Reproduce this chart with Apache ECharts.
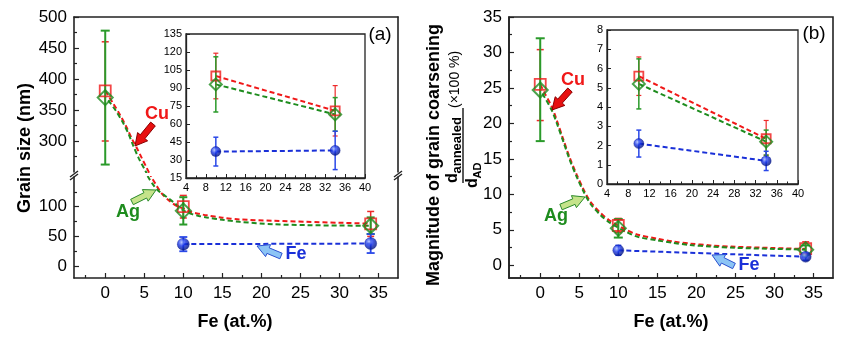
<!DOCTYPE html>
<html><head><meta charset="utf-8">
<script src="https://cdn.jsdelivr.net/npm/echarts@6/dist/echarts.min.js"></script>
<style>html,body{margin:0;padding:0;background:#fff}#c{width:841px;height:339px}</style>
</head><body><div id="c"></div>
<script>
// ================= DATA =================
const feAt = [0, 10, 34];          // Fe (at.%) of the samples
const feAtFe = [10, 34];           // samples with an Fe phase

// Panel (a): grain size (nm)
const cuSizeA = [381, 100, 71];
const cuSizeLoA = [300, 81, 50];
const cuSizeHiA = [460, 119, 92];
const agSizeA = [370, 93, 68];
const agSizeLoA = [262, 70, 54];
const agSizeHiA = [478, 116, 82];
const feSizeA = [37, 38];
const feSizeLoA = [25, 22];
const feSizeHiA = [49, 54];

// Panel (a) guide curves (upper / lower part of broken axis)
const cuCurveUpperA = [[0,381],[1,361],[1.9,342],[2.7,323],[3.4,304],[4,290],[4.7,272],[5.3,257],[5.8,244]];
const cuCurveLowerA = [[5.6,158],[6.0,148],[6.6,135],[7.2,123],[8.2,110],[9.2,101],[10,97],[11,91],[12,88],[13,85.5],[15,81.5],[17.2,78.6],[21.5,76.3],[25.8,74.6],[30,73],[34,71.5]];
const agCurveUpperA = [[0,370],[0.4,365],[1.3,350],[2.3,329],[3,311],[3.6,292],[4.3,272],[5.1,253],[5.5,243]];
const agCurveLowerA = [[5.2,158],[5.5,150],[6.2,136],[6.8,127],[7.7,118],[8.7,108],[10,94],[11,88],[12,84.5],[13,82],[15,78],[17.2,74.6],[21.5,70.5],[25.8,69],[30,68.3],[34,68]];

// Panel (b): magnitude of grain coarsening (x100 %)
const cuCoarsB = [25.5, 5.6, 2.35];
const cuCoarsLoB = [20.4, 4.6, 1.5];
const cuCoarsHiB = [30.4, 6.6, 3.3];
const agCoarsB = [24.7, 5.2, 2.2];
const agCoarsLoB = [17.5, 3.9, 1.5];
const agCoarsHiB = [32.0, 6.5, 2.8];
const feCoarsB = [2.1, 1.2];
const feCoarsLoB = [1.4, 0.7];
const feCoarsHiB = [2.8, 1.7];

const cuCurveB = [[0,25.5],[0.6,24.2],[1.5,22.3],[2.1,20.5],[3,17.6],[3.8,15.1],[4.7,12.7],[5.5,10.8],[6.4,9.0],[7.7,7.4],[8.9,6.3],[10,5.6],[11,5.0],[12.5,4.3],[15,3.75],[17,3.35],[19.2,3.05],[21.8,2.8],[25,2.6],[30,2.42],[34,2.3]];
const agCurveB = [[0,24.7],[0.6,23.6],[1.5,21.8],[2.1,20.1],[3,17.3],[3.8,14.8],[4.7,12.4],[5.5,10.5],[6.4,8.7],[7.7,7.1],[8.9,6.0],[10,5.3],[11,4.7],[12.5,4.0],[15,3.5],[17,3.15],[19.2,2.85],[21.8,2.65],[25,2.45],[30,2.3],[34,2.2]];

// Tick values
const xTicksMain = [0,5,10,15,20,25,30,35];
const xMinorMain = [-2.5,2.5,7.5,12.5,17.5,22.5,27.5,32.5];
const yTicksUpperA = [300,350,400,450,500];
const yMinorUpperA = [275,325,375,425,475];
const yTicksLowerA = [0,50,100];
const yMinorLowerA = [25,75,125];
const yTicksB = [0,5,10,15,20,25,30,35];
const yMinorB = [2.5,7.5,12.5,17.5,22.5,27.5,32.5];

// ================= STYLE =================
const FONT = 'Arial, "Liberation Sans", Helvetica, sans-serif';
const RED = '#f01818', GREEN = '#1e8c1e', BLUE = '#1a30d8';
const ERR_RED = '#ee2a2a', ERR_GREEN = '#2a9a2a', ERR_BLUE = '#2a48e8';
const FRAME = '#222';
const sphere = {type:'radial', x:0.38, y:0.35, r:0.65, colorStops:[
  {offset:0,color:'#a8bcff'},{offset:0.45,color:'#1633e6'},{offset:1,color:'#00127a'}]};

const pairs = (xs, ys) => xs.map((x,i)=>[x, ys[i]]);
const triples = (xs, lo, hi) => xs.map((x,i)=>[x, lo[i], hi[i]]);

function frameAxis(dim, grid, pos, min, max){
  return {type:'value', gridIndex:grid, position:pos, min, max,
    axisLine:{show:true, onZero:false, lineStyle:{color:FRAME, width:1.6}},
    axisTick:{show:false}, axisLabel:{show:false}, splitLine:{show:false}};
}
function majorAxis(grid, pos, min, max, ticks, fs, margin){
  return {type:'value', gridIndex:grid, position:pos, min, max,
    axisLine:{show:true, onZero:false, lineStyle:{color:FRAME, width:1.6}},
    axisTick:{show:true, inside:true, length:5, customValues:ticks, lineStyle:{color:FRAME, width:1.2}},
    axisLabel:{show:true, customValues:ticks, color:'#000', fontSize:fs, fontFamily:FONT, margin},
    splitLine:{show:false}};
}
function minorAxis(grid, pos, min, max, ticks){
  return {type:'value', gridIndex:grid, position:pos, min, max,
    axisLine:{show:false, onZero:false},
    axisTick:{show:true, inside:true, length:3, customValues:ticks, lineStyle:{color:FRAME, width:1.2}},
    axisLabel:{show:false}, splitLine:{show:false}};
}
function insetAxis(grid, pos, min, max, interval, minor){
  return {type:'value', gridIndex:grid, position:pos, min, max, interval,
    axisLine:{show:true, onZero:false, lineStyle:{color:FRAME, width:1.3}},
    axisTick:{show:true, inside:true, length:4, lineStyle:{color:FRAME, width:1}},
    minorTick:{show:minor, splitNumber:2, length:2.5, lineStyle:{color:FRAME, width:1}},
    axisLabel:{color:'#000', fontSize:11, fontFamily:FONT, margin:4},
    splitLine:{show:false}};
}

function dashed(data, xi, yi, color, smooth, z, offset){
  return {type:'line', xAxisIndex:xi, yAxisIndex:yi, data, symbol:'none', showSymbol:false,
    smooth, silent:true, z, clip:true, animation:false,
    lineStyle:{color, width:2, type:[5,3], dashOffset:offset||0}};
}
function errBars(data, xi, yi, color, lw, cap, z){
  return {type:'custom', xAxisIndex:xi, yAxisIndex:yi, silent:true, z, data, animation:false,
    renderItem(params, api){
      const x = api.value(0), lo = api.value(1), hi = api.value(2);
      const a = api.coord([x, lo]), b = api.coord([x, hi]);
      const st = {stroke:color, lineWidth:lw};
      return {type:'group', children:[
        {type:'line', shape:{x1:a[0],y1:a[1],x2:b[0],y2:b[1]}, style:st},
        {type:'line', shape:{x1:a[0]-cap,y1:a[1],x2:a[0]+cap,y2:a[1]}, style:st},
        {type:'line', shape:{x1:b[0]-cap,y1:b[1],x2:b[0]+cap,y2:b[1]}, style:st}]};
    }};
}
function marks(data, xi, yi, kind, size, z){
  let symbol, itemStyle, symbolSize = size;
  if (kind === 'cu'){ symbol = 'rect'; itemStyle = {color:'rgba(255,255,255,0)', borderColor:RED, borderWidth:1.8}; }
  else if (kind === 'ag'){ symbol = 'diamond'; symbolSize = [size,size]; itemStyle = {color:'rgba(255,255,255,0)', borderColor:GREEN, borderWidth:2}; }
  else { symbol = 'circle'; itemStyle = {color:sphere, borderColor:'#0a1a90', borderWidth:0.5}; }
  return {type:'scatter', xAxisIndex:xi, yAxisIndex:yi, data, symbol, symbolSize, itemStyle, silent:true, z, animation:false};
}

// ================= AXES =================
// grids: 0 = (a) upper, 1 = (a) lower, 2 = (a) inset, 3 = (b) main, 4 = (b) inset
const grid = [
  {left:74, top:17, width:324, height:155},
  {left:74, top:177, width:324, height:101},
  {left:186, top:34, width:179, height:144, show:true, backgroundColor:'#fff', borderColor:FRAME, borderWidth:1.3},
  {left:509, top:17, width:324, height:261, show:true, borderColor:FRAME, borderWidth:1.6},
  {left:607, top:30, width:191, height:154, show:true, backgroundColor:'#fff', borderColor:FRAME, borderWidth:1.3}
];
const xAxis = [
  frameAxis('x', 0, 'top', -4, 37.5),                          // 0
  majorAxis(1, 'bottom', -4, 37.5, xTicksMain, 17, 7),          // 1
  minorAxis(1, 'bottom', -4, 37.5, xMinorMain),                 // 2
  insetAxis(2, 'bottom', 4, 40, 4, true),                       // 3
  majorAxis(3, 'bottom', -4, 37.5, xTicksMain, 17, 7),          // 4
  minorAxis(3, 'bottom', -4, 37.5, xMinorMain),                 // 5
  insetAxis(4, 'bottom', 4, 40, 4, true)                        // 6
];
const yAxis = [
  majorAxis(0, 'left', 250, 500, yTicksUpperA, 17, 7),          // 0
  minorAxis(0, 'left', 250, 500, yMinorUpperA),                 // 1
  frameAxis('y', 0, 'right', 250, 500),                         // 2
  majorAxis(1, 'left', -20, 150, yTicksLowerA, 17, 7),          // 3
  minorAxis(1, 'left', -20, 150, yMinorLowerA),                 // 4
  frameAxis('y', 1, 'right', -20, 150),                         // 5
  insetAxis(2, 'left', 15, 135, 15, false),                     // 6
  majorAxis(3, 'left', -1.8, 35, yTicksB, 17, 7),               // 7
  minorAxis(3, 'left', -1.8, 35, yMinorB),                      // 8
  insetAxis(4, 'left', 0, 8, 1, false)                          // 9
];

// ================= SERIES =================
const series = [];
// (a) upper part
series.push(dashed(cuCurveUpperA, 0, 0, RED, 0.3, 2, 0));
series.push(dashed(agCurveUpperA, 0, 0, GREEN, 0.3, 2, 4));
series.push(errBars(triples(feAt.slice(0,1), cuSizeLoA.slice(0,1), cuSizeHiA.slice(0,1)), 0, 0, ERR_RED, 1.5, 3.5, 3));
series.push(errBars(triples(feAt.slice(0,1), agSizeLoA.slice(0,1), agSizeHiA.slice(0,1)), 0, 0, ERR_GREEN, 2, 4.5, 4));
series.push(marks(pairs(feAt.slice(0,1), cuSizeA.slice(0,1)), 0, 0, 'cu', 11, 5));
series.push(marks(pairs(feAt.slice(0,1), agSizeA.slice(0,1)), 0, 0, 'ag', 15, 6));
// (a) lower part
series.push(dashed(cuCurveLowerA, 1, 3, RED, 0.3, 2, 0));
series.push(dashed(agCurveLowerA, 1, 3, GREEN, 0.3, 2, 4));
series.push(dashed(pairs(feAtFe, feSizeA), 1, 3, BLUE, false, 2, 0));
series.push(errBars(triples(feAt.slice(1), cuSizeLoA.slice(1), cuSizeHiA.slice(1)), 1, 3, ERR_RED, 1.5, 3.5, 3));
series.push(errBars(triples(feAt.slice(1), agSizeLoA.slice(1), agSizeHiA.slice(1)), 1, 3, ERR_GREEN, 2, 4, 4));
series.push(errBars(triples(feAtFe, feSizeLoA, feSizeHiA), 1, 3, ERR_BLUE, 1.8, 4, 4));
series.push(marks(pairs(feAt.slice(1), cuSizeA.slice(1)), 1, 3, 'cu', 11, 5));
series.push(marks(pairs(feAt.slice(1), agSizeA.slice(1)), 1, 3, 'ag', 15, 6));
series.push(marks(pairs(feAtFe, feSizeA), 1, 3, 'fe', 12, 6));
// (a) inset
series.push(dashed(pairs(feAt.slice(1), cuSizeA.slice(1)), 3, 6, RED, false, 12, 0));
series.push(dashed(pairs(feAt.slice(1), agSizeA.slice(1)), 3, 6, GREEN, false, 12, 0));
series.push(dashed(pairs(feAtFe, feSizeA), 3, 6, BLUE, false, 12, 0));
series.push(errBars(triples(feAt.slice(1), cuSizeLoA.slice(1), cuSizeHiA.slice(1)), 3, 6, ERR_RED, 1.2, 2.5, 13));
series.push(errBars(triples(feAt.slice(1), agSizeLoA.slice(1), agSizeHiA.slice(1)), 3, 6, ERR_GREEN, 1.5, 2.5, 14));
series.push(errBars(triples(feAtFe, feSizeLoA, feSizeHiA), 3, 6, ERR_BLUE, 1.5, 2.5, 14));
series.push(marks(pairs(feAt.slice(1), cuSizeA.slice(1)), 3, 6, 'cu', 9, 15));
series.push(marks(pairs(feAt.slice(1), agSizeA.slice(1)), 3, 6, 'ag', 12, 16));
series.push(marks(pairs(feAtFe, feSizeA), 3, 6, 'fe', 10, 16));
// (b) main
series.push(dashed(cuCurveB, 4, 7, RED, 0.3, 2, 0));
series.push(dashed(agCurveB, 4, 7, GREEN, 0.3, 2, 4));
series.push(dashed(pairs(feAtFe, feCoarsB), 4, 7, BLUE, false, 2, 0));
series.push(errBars(triples(feAt, cuCoarsLoB, cuCoarsHiB), 4, 7, ERR_RED, 1.5, 3.5, 3));
series.push(errBars(triples(feAt, agCoarsLoB, agCoarsHiB), 4, 7, ERR_GREEN, 2, 4.5, 4));
series.push(errBars(triples(feAtFe, feCoarsLoB, feCoarsHiB), 4, 7, ERR_BLUE, 1.5, 3, 4));
series.push(marks(pairs(feAt, cuCoarsB), 4, 7, 'cu', 11, 5));
series.push(marks(pairs(feAt, agCoarsB), 4, 7, 'ag', 15, 6));
series.push(marks(pairs(feAtFe, feCoarsB), 4, 7, 'fe', 11, 6));
// (b) inset
series.push(dashed(pairs(feAt.slice(1), cuCoarsB.slice(1)), 6, 9, RED, false, 12, 0));
series.push(dashed(pairs(feAt.slice(1), agCoarsB.slice(1)), 6, 9, GREEN, false, 12, 0));
series.push(dashed(pairs(feAtFe, feCoarsB), 6, 9, BLUE, false, 12, 0));
series.push(errBars(triples(feAt.slice(1), cuCoarsLoB.slice(1), cuCoarsHiB.slice(1)), 6, 9, ERR_RED, 1.2, 2.5, 13));
series.push(errBars(triples(feAt.slice(1), agCoarsLoB.slice(1), agCoarsHiB.slice(1)), 6, 9, ERR_GREEN, 1.5, 2.5, 14));
series.push(errBars(triples(feAtFe, feCoarsLoB, feCoarsHiB), 6, 9, ERR_BLUE, 1.5, 2.5, 14));
series.push(marks(pairs(feAt.slice(1), cuCoarsB.slice(1)), 6, 9, 'cu', 9, 15));
series.push(marks(pairs(feAt.slice(1), agCoarsB.slice(1)), 6, 9, 'ag', 12, 16));
series.push(marks(pairs(feAtFe, feCoarsB), 6, 9, 'fe', 10, 16));

// ================= ANNOTATIONS =================
function arrowPts(tail, tip, sw, hw, hl){
  const dx = tip[0]-tail[0], dy = tip[1]-tail[1], L = Math.hypot(dx,dy);
  const ux = dx/L, uy = dy/L, nx = -uy, ny = ux;
  const bx = tip[0]-ux*hl, by = tip[1]-uy*hl;
  return [[tail[0]+nx*sw/2, tail[1]+ny*sw/2],[bx+nx*sw/2, by+ny*sw/2],[bx+nx*hw/2, by+ny*hw/2],
    tip,[bx-nx*hw/2, by-ny*hw/2],[bx-nx*sw/2, by-ny*sw/2],[tail[0]-nx*sw/2, tail[1]-ny*sw/2]];
}
function arrow(tail, tip, fill, stroke){
  return {type:'polygon', z:50, silent:true, shape:{points:arrowPts(tail, tip, 6, 13, 12)}, style:{fill, stroke, lineWidth:1}};
}
function txt(x, y, text, font, fill, align, rot){
  return {type:'text', x, y, rotation:rot||0, z:50, silent:true,
    style:{text, font, fill, align:align||'center', verticalAlign:'middle', textAlign:align||'center', textVerticalAlign:'middle'}};
}
function ln(x1,y1,x2,y2,w){
  return {type:'line', z:50, silent:true, shape:{x1,y1,x2,y2}, style:{stroke:FRAME, lineWidth:w||1.4}};
}
const B18 = 'bold 18px ' + FONT;
const R = Math.PI/2;
const graphic = [
  // arrows and labels, panel (a)
  arrow([153,124],[135,146], '#e81010', '#8a0000'),
  arrow([132,202],[156,190], '#c5e38a', '#2a8a2a'),
  arrow([281,256],[257,246], '#8cc4f5', '#2a50d0'),
  txt(157,114,'Cu',B18,RED), txt(128,212,'Ag',B18,GREEN), txt(296,254,'Fe',B18,BLUE),
  // arrows and labels, panel (b)
  arrow([570,90],[552,110], '#e81010', '#8a0000'),
  arrow([561,207],[585,197], '#c5e38a', '#2a8a2a'),
  arrow([734,266],[712,255], '#8cc4f5', '#2a50d0'),
  txt(573,80,'Cu',B18,RED), txt(556,216,'Ag',B18,GREEN), txt(749,265,'Fe',B18,BLUE),
  // panel letters
  txt(380,35,'(a)','19px '+FONT,'#000'), txt(814,34,'(b)','19px '+FONT,'#000'),
  // axis titles
  txt(235,322,'Fe (at.%)',B18,'#000'), txt(671,322,'Fe (at.%)',B18,'#000'),
  txt(25,148,'Grain size (nm)',B18,'#000','center',R),
  txt(434.5,155,'Magnitude of grain coarsening',B18,'#000','center',R),
  txt(453,183,'d','bold 16px '+FONT,'#000','left',R),
  txt(457.5,173.5,'annealed','bold 13px '+FONT,'#000','left',R),
  ln(463,108,463,183,1.5),
  txt(473,188,'d','bold 16px '+FONT,'#000','left',R),
  txt(477.5,178.5,'AD','bold 11px '+FONT,'#000','left',R),
  txt(455.5,108,'(\u00d7100 %)','14px '+FONT,'#000','left',R),
  // axis break marks
  ln(70,177,78,171), ln(70,180,78,174),
  ln(394,177,402,171), ln(394,180,402,174)
];

const chart = echarts.init(document.getElementById('c'), null, {renderer:'canvas'});
chart.setOption({animation:false, backgroundColor:'#fff', grid, xAxis, yAxis, series, graphic});
</script></body></html>
